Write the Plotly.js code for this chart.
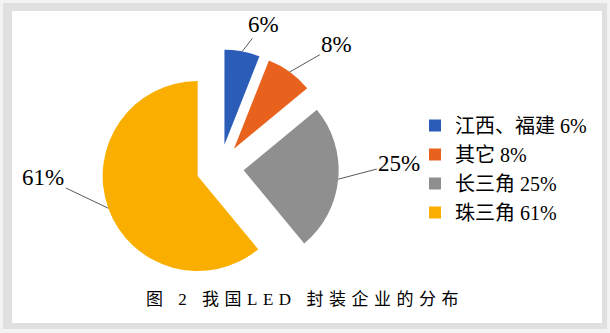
<!DOCTYPE html>
<html>
<head>
<meta charset="utf-8">
<script src="https://cdn.plot.ly/plotly-3.0.1.min.js"></script>
<style>
  html, body { margin: 0; padding: 0; background: #f3f3f3; }
  #chart { width: 610px; height: 333px; }
  .gtitle { letter-spacing: 5.5px; }
</style>
</head>
<body>
<div id="chart"></div>
<script>
// ---- data ----
const categories = ['江西、福建', '其它', '长三角', '珠三角'];
const values = [6, 8, 25, 61];
const chartTitle = '图 2 我国LED 封装企业的分布';

// ---- style ----
const colors = ['#2B5CB8', '#E8621E', '#8F8F8F', '#FAAF00'];
const pullFrac = 0.25;
const labelOffsets = [[21, -27], [47, -27], [61, -16], [-65, -31]];
const W = 610, H = 333;
const serifCJK = 'Liberation Serif, "Noto Sans CJK SC", serif';

const legendLabels = categories.map((c, i) => c + ' ' + values[i] + '%');

const trace = {
  type: 'pie',
  labels: legendLabels,
  values: values,
  sort: false,
  direction: 'clockwise',
  rotation: 0,
  pull: pullFrac,
  marker: { colors: colors, line: { width: 0 } },
  textinfo: 'none',
  hoverinfo: 'none',
  domain: { x: [101.25 / W, 338.75 / W], y: [46.25 / H, 283.75 / H] }
};

function px(x) { return x / W; }
function py(y) { return 1 - y / H; }

const layout = {
  width: W, height: H,
  margin: { l: 0, r: 0, t: 0, b: 0 },
  paper_bgcolor: '#f3f3f3',
  showlegend: true,
  legend: {
    x: px(415), y: py(106), xanchor: 'left', yanchor: 'top',
    bgcolor: 'rgba(0,0,0,0)',
    font: { family: serifCJK, size: 20, color: '#000' },
    traceorder: 'normal'
  },
  title: {
    text: chartTitle,
    x: 0.5, xanchor: 'center',
    y: py(299), yanchor: 'middle',
    font: { family: serifCJK, size: 17, color: '#000' }
  },
  shapes: [
    { type: 'rect', xref: 'paper', yref: 'paper', layer: 'below',
      x0: px(3), x1: px(607), y0: py(3), y1: py(329),
      fillcolor: '#e0e0e0', line: { width: 0 } },
    { type: 'rect', xref: 'paper', yref: 'paper', layer: 'below',
      x0: px(12), x1: px(602), y0: py(11), y1: py(323),
      fillcolor: '#ffffff', line: { width: 0 } }
  ]
};

const gd = document.getElementById('chart');
Plotly.newPlot(gd, [trace], layout, { displayModeBar: false, staticPlot: true }).then(() => {
  const cd0 = gd.calcdata[0][0];
  const cx = cd0.cx, cy = cd0.cy, r = cd0.r;
  const total = values.reduce((a, b) => a + b, 0);
  let acc = 0;
  const anns = values.map((v, i) => {
    const mid = (acc + v / 2) / total * 2 * Math.PI;
    acc += v;
    const rr = r * (1 + pullFrac);
    const tipX = cx + rr * Math.sin(mid);
    const tipY = cy - rr * Math.cos(mid);
    return {
      xref: 'paper', yref: 'paper',
      x: px(tipX), y: py(tipY),
      ax: labelOffsets[i][0], ay: labelOffsets[i][1],
      text: v + '%',
      showarrow: true, arrowhead: 0, arrowwidth: 1, arrowcolor: '#5a5a5a',
      standoff: 0, startstandoff: 0,
      font: { family: serifCJK, size: 23, color: '#000' }
    };
  });
  return Plotly.relayout(gd, { annotations: anns });
});
</script>
</body>
</html>
